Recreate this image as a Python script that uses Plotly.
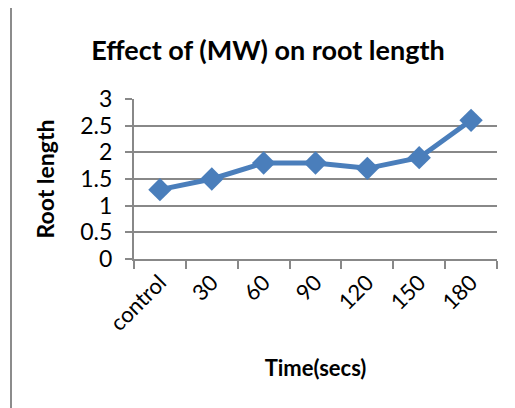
import plotly.graph_objects as go

categories = ["control", "30", "60", "90", "120", "150", "180"]
root_length = [1.3, 1.5, 1.8, 1.8, 1.7, 1.9, 2.6]
y_ticks = [0, 0.5, 1, 1.5, 2, 2.5, 3]
y_tick_labels = ["0", "0.5", "1", "1.5", "2", "2.5", "3"]

FONT = "Lato"
GRID = "#888888"
BLUE = "#4A7EBB"

# page body has an 8px offset; compensate in the layout
OFF = 8
W, H = 515, 408
L, R, T, B = 134 - OFF, W - (497 - OFF), 99 - OFF, H - (259 - OFF)
PW, PH = W - L - R, H - T - B

fig = go.Figure()
fig.add_trace(go.Scatter(
    x=categories, y=root_length, mode="lines+markers",
    line=dict(color=BLUE, width=5),
    marker=dict(symbol="diamond", size=18, color=BLUE),
    showlegend=False, cliponaxis=False,
))

fig.update_layout(
    width=W, height=H,
    margin=dict(l=L, r=R, t=T, b=B),
    paper_bgcolor="white", plot_bgcolor="white",
    font=dict(family=FONT, color="black"),
    title=dict(text="<b>Effect of (MW) on root length</b>", x=(268 - OFF) / W, xanchor="center",
               y=1 - (51 - OFF) / H, yanchor="middle", font=dict(size=27, family=FONT)),
    xaxis=dict(
        type="category", range=[-0.5, 6.5], tickson="boundaries", automargin=False,
        ticks="outside", ticklen=8, tickcolor=GRID, tickwidth=2,
        showline=True, linecolor=GRID, linewidth=2, showgrid=False,
        tickangle=-45, tickfont=dict(size=22, family=FONT),
        title=dict(text="<b>Time(secs)</b>", font=dict(size=22, family=FONT), standoff=26),
    ),
    yaxis=dict(
        range=[0, 3], tickvals=y_ticks, ticktext=y_tick_labels, automargin=False,
        ticks="outside", ticklen=7, tickcolor=GRID, tickwidth=2,
        showline=True, linecolor=GRID, linewidth=2,
        showgrid=True, gridcolor=GRID, gridwidth=2, zeroline=False,
        tickfont=dict(size=23, family=FONT), ticklabelstandoff=8,
        title=dict(text="<b>Root length</b>", font=dict(size=23, family=FONT), standoff=19),
    ),
)

bx = 11 - OFF
fig.add_shape(type="rect", xref="paper", yref="paper",
              x0=(bx - L) / PW, x1=1.2, y0=-1.0, y1=(H - T - bx) / PH,
              line=dict(color="#8c8c8c", width=2), layer="below")

fig.write_html("out.html")
